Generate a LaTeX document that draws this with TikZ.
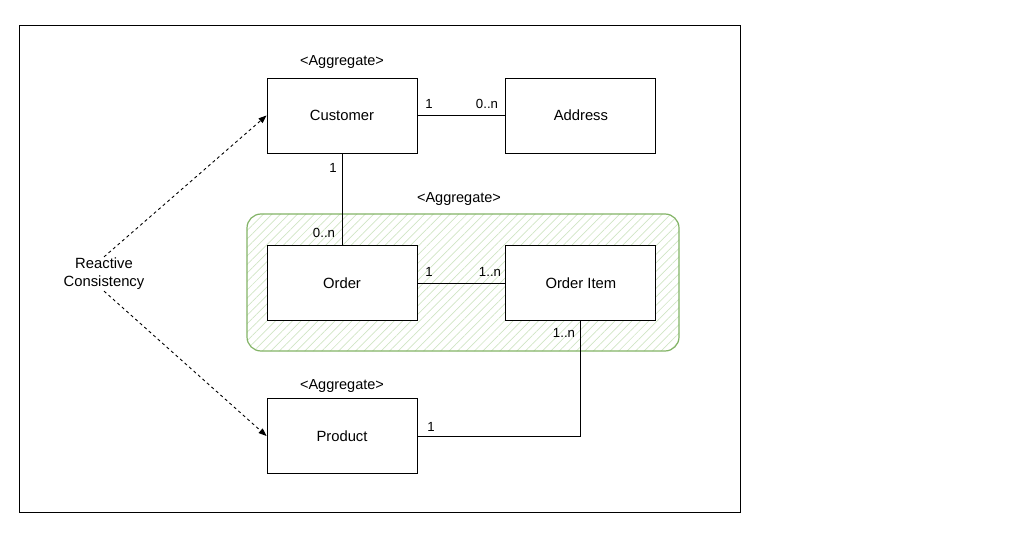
\documentclass[tikz,border=0pt]{standalone}
\usepackage{fontspec}
\setmainfont{Liberation Sans}
\usetikzlibrary{positioning,patterns.meta,arrows.meta}
\definecolor{grpgreen}{HTML}{82B366}
\definecolor{hatchgreen}{HTML}{D0E5C4}

\begin{document}
\begin{tikzpicture}[x=1pt,y=-1pt,
    entity/.style={draw,line width=0.9pt,minimum width=150pt,minimum height=75pt,
      inner sep=0pt,font=\fontsize{14.8}{18}\selectfont},
    mult/.style={inner sep=0pt,font=\fontsize{13.2}{15}\selectfont},
    stereo/.style={inner sep=0pt,font=\fontsize{14.5}{16}\selectfont}]
    \useasboundingbox (0,0) rectangle (1036,537);

    % frame
    \draw[line width=0.9pt] (19,25) rectangle (740,512);

    % aggregate group
    \draw[grpgreen,line width=1.2pt,rounded corners=14pt,
          pattern={Lines[angle=45,distance=6pt,line width=0.7pt]},pattern color=hatchgreen]
        (247,214) rectangle (679,351);

    \node[entity] (cust) at (342,115.5) {Customer};
    \node[entity,right=88pt of cust] (addr) {Address};
    \node[entity,fill=white] (ord) at (342,283) {Order};
    \node[entity,fill=white,right=88pt of ord] (item) {Order Item};
    \node[entity] (prod) at (342,436) {Product};

    \begin{scope}[stereo]
        \node (agg1) at (342,62) {<Aggregate>};
        \node (agg2) at (459,199) {<Aggregate>};
        \node (agg3) at (342,386) {<Aggregate>};
    \end{scope}

    \node[align=center,inner sep=1pt,font=\fontsize{14.8}{18}\selectfont] (rc) at (104,274)
        {Reactive\\Consistency};

    % associations
    \draw[line width=0.9pt] (cust) -- (addr);
    \draw[line width=0.9pt] (cust) -- (ord);
    \draw[line width=0.9pt] (ord) -- (item);
    \draw[line width=0.9pt] (item.south) |- (prod.east);

    \begin{scope}[mult]
        \node (m1) at (429,104) {1};
        \node (m2) at (487,104) {0..n};
        \node (m3) at (333,168) {1};
        \node (m4) at (324,233) {0..n};
        \node (m5) at (429,272) {1};
        \node (m6) at (490,272) {1..n};
        \node (m7) at (564,333) {1..n};
        \node (m8) at (431,427) {1};
    \end{scope}

    \begin{scope}[dashed,line width=0.9pt,-{Triangle[length=8pt,width=6pt]}]
        \draw (rc.north) -- (cust.west);
        \draw (rc.south) -- (prod.west);
    \end{scope}
\end{tikzpicture}
\end{document}
